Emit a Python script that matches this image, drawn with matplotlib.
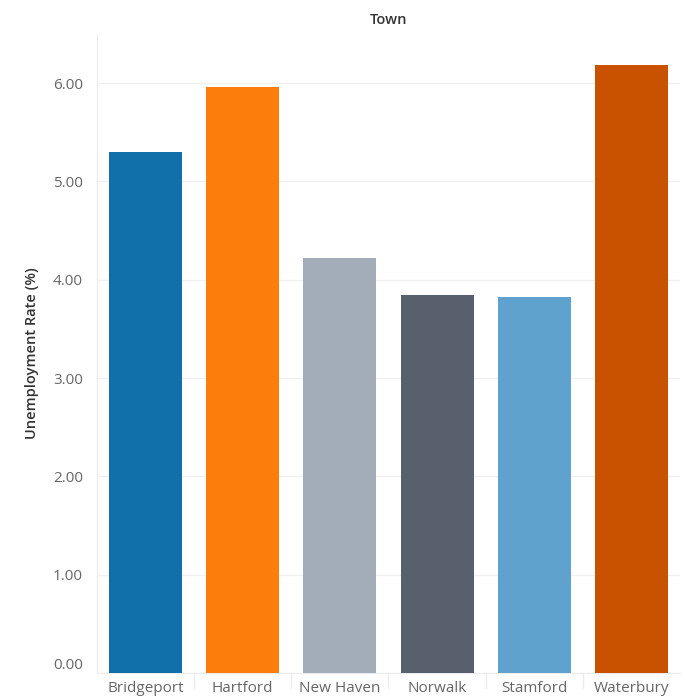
import matplotlib
matplotlib.use("Agg")
import matplotlib.pyplot as plt
import numpy as np

towns = ["Bridgeport", "Hartford", "New Haven", "Norwalk", "Stamford", "Waterbury"]
rates = [5.30, 5.96, 4.22, 3.85, 3.82, 6.18]
colors = ["#1170aa", "#fc7d0b", "#a3acb9", "#57606c", "#5fa2ce", "#c85200"]
yticks = [0, 1, 2, 3, 4, 5, 6]

plt.rcParams['font.family'] = ['Open Sans', 'DejaVu Sans']

fig = plt.figure(figsize=(6.86, 7.0), dpi=100)
ax = fig.add_axes([97/686, 27/700, 583/686, 639/700])

x = np.arange(len(towns))
ax.bar(x, rates, width=0.75, color=colors, zorder=3)

ax.set_xlim(-0.5, len(towns) - 0.5)
ax.set_ylim(0, 6.5)
ax.set_yticks(yticks)
ax.set_yticklabels([f"{v:.2f}" for v in yticks], color="#666666", fontsize=11)
ax.set_xticks(x)
ax.set_xticklabels(towns, color="#666666", fontsize=11)
ax.tick_params(axis='y', length=0, pad=10)
ax.tick_params(axis='x', length=0, pad=6)
ax.get_yticklabels()[0].set_va("bottom")

ax.grid(axis='y', color="#f0f0f0", linewidth=1, zorder=0)
for s in ["top", "right"]:
    ax.spines[s].set_visible(False)
ax.spines["left"].set_color("#ececec")
ax.spines["bottom"].set_color("#ececec")

# category separators below baseline
for b in np.arange(0.5, len(towns) - 0.5, 1.0):
    ax.plot([b, b], [0, -0.15], color="#ececec", lw=1, clip_on=False)

ax.set_ylabel("Unemployment Rate (%)", fontsize=10.5, color="#333333", fontweight="semibold", labelpad=10)
fig.text((97 + 583/2)/686, 1 - 20/700, "Town", ha="center", va="center",
         fontsize=10.5, color="#333333", fontweight="semibold")

fig.savefig("out.png", dpi=100)
